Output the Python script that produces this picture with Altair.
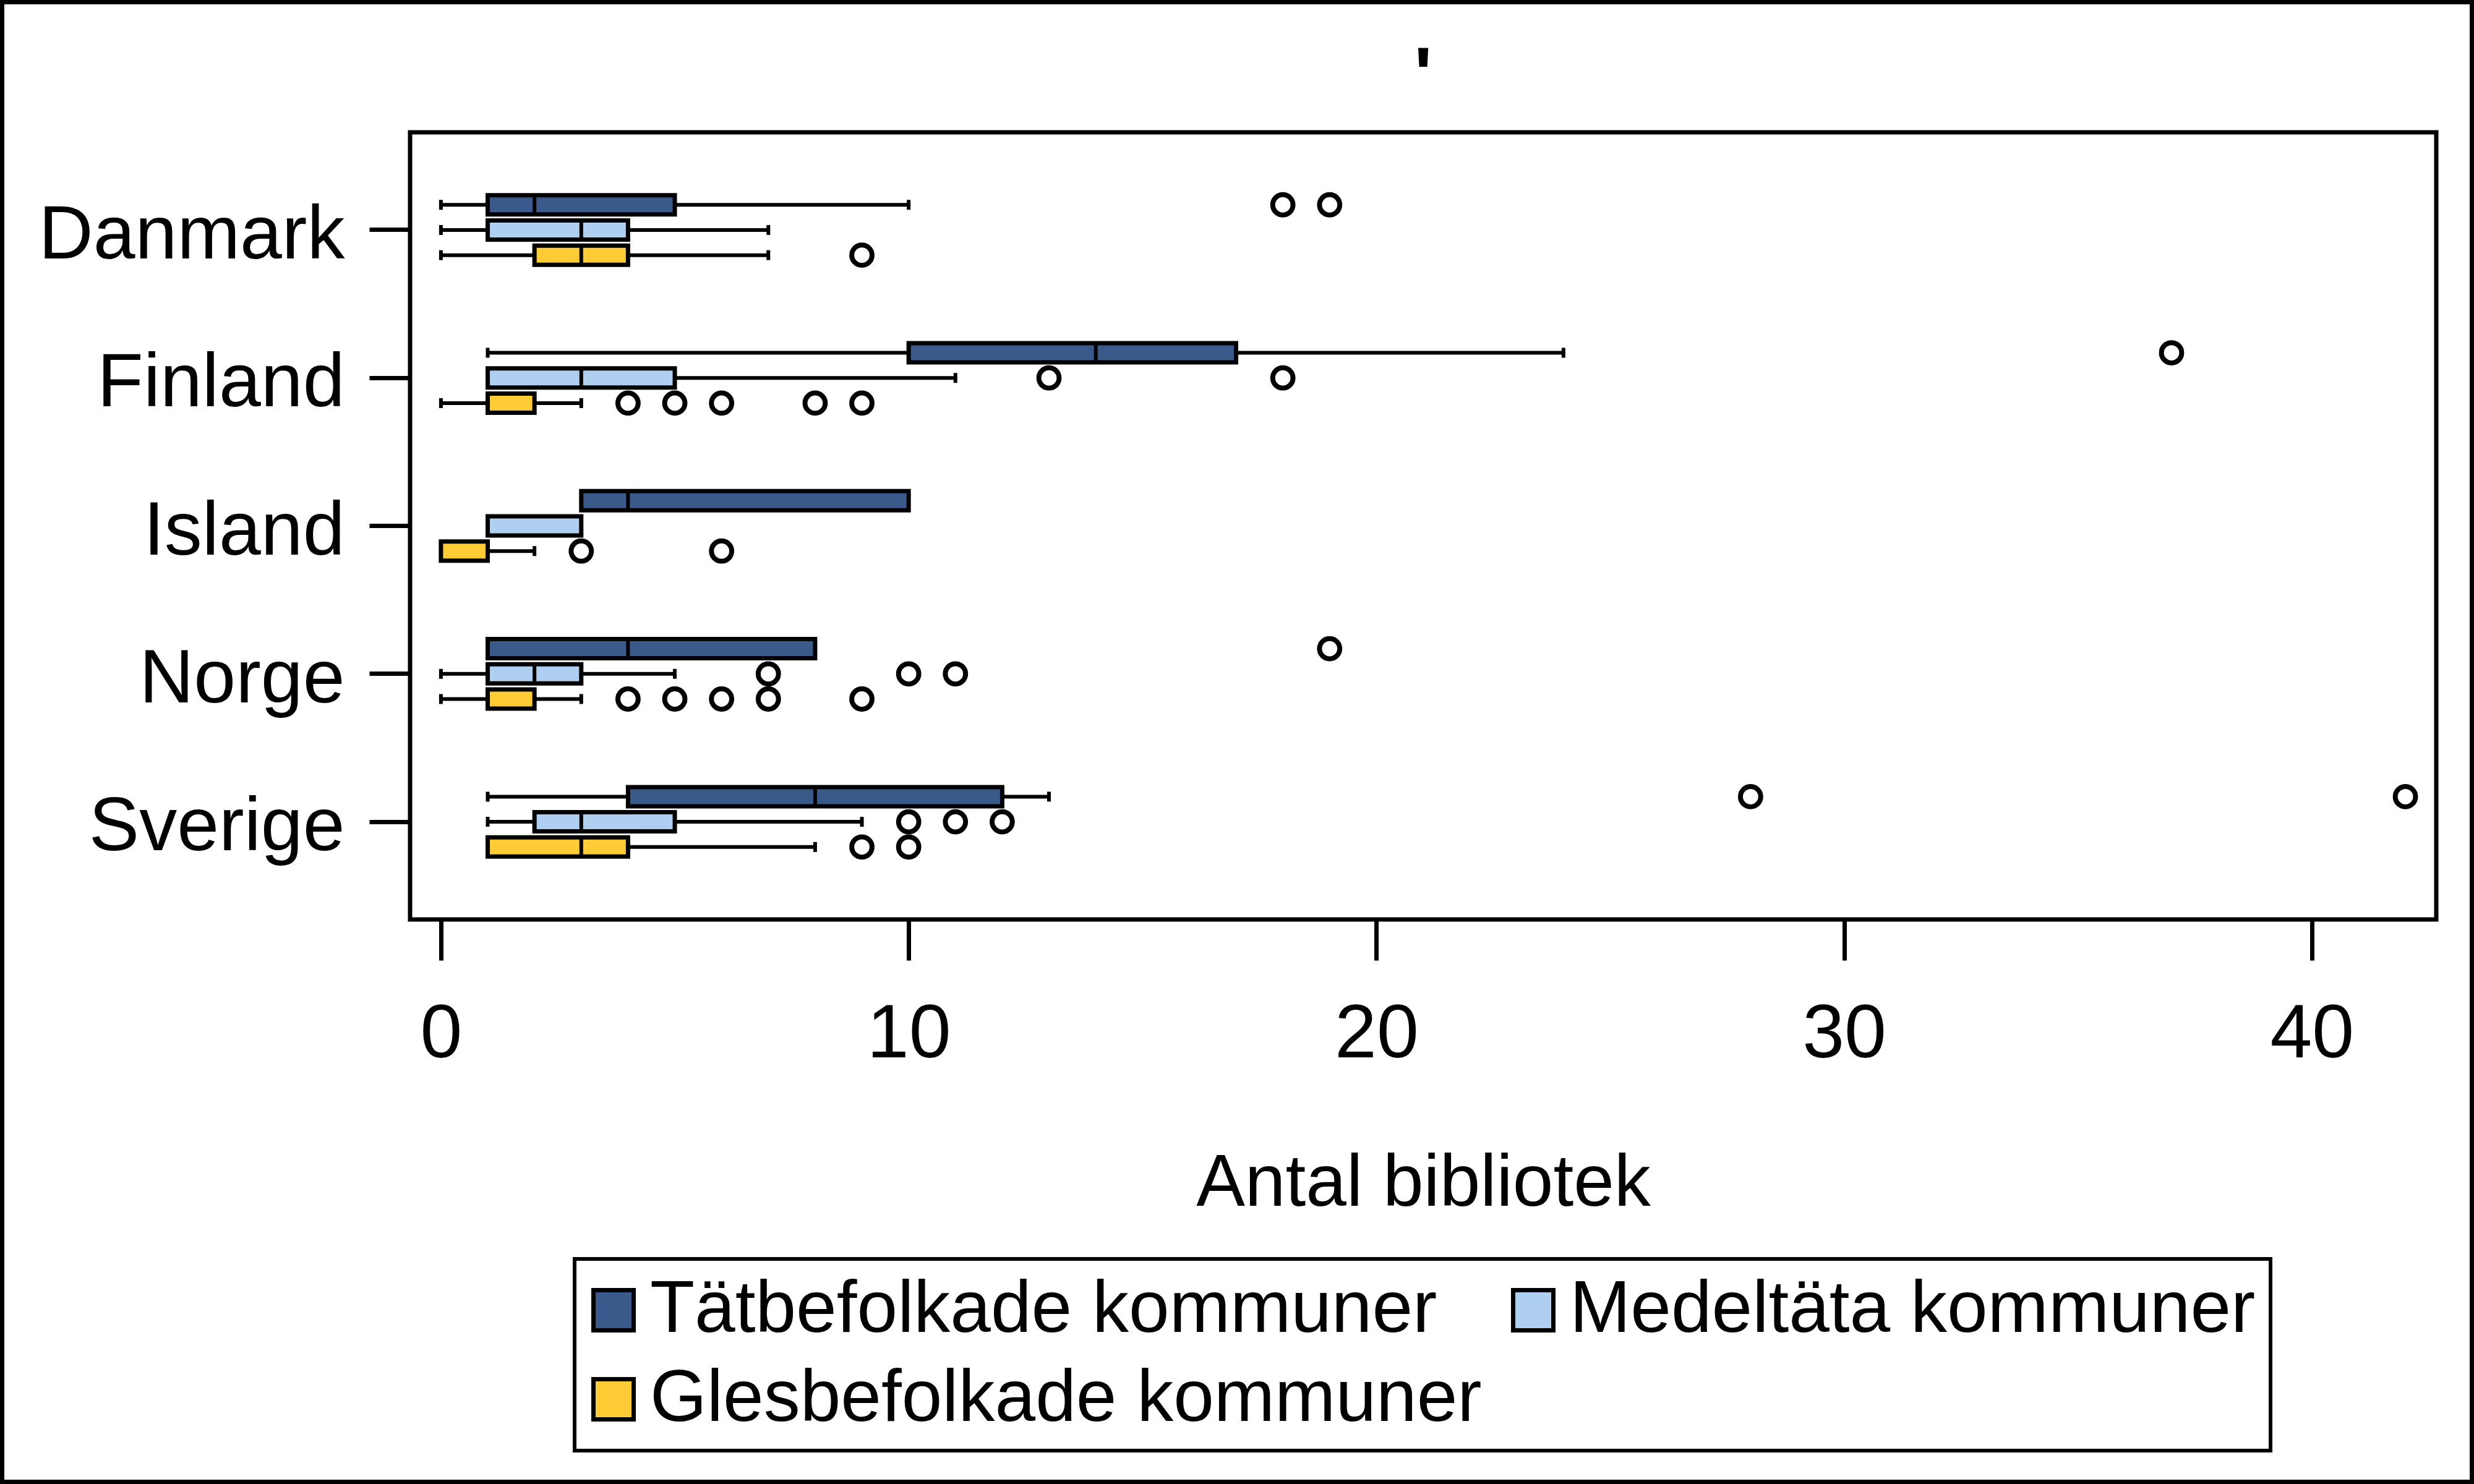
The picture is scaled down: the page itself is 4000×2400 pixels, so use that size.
import altair as alt
import pandas as pd

countries = ["Danmark", "Finland", "Island", "Norge", "Sverige"]
groups = ["Tätbefolkade kommuner", "Medeltäta kommuner", "Glesbefolkade kommuner"]
colors = ["#3a5a8b", "#aecff0", "#ffcc35"]
x_ticks = [0, 10, 20, 30, 40]
title_text = ["'"]

# Tätbefolkade kommuner
tat_lo = [0, 1, 3, 1, 1]
tat_q1 = [1, 10, 3, 1, 4]
tat_med = [2, 14, 4, 4, 8]
tat_q3 = [5, 17, 10, 8, 12]
tat_hi = [10, 24, 10, 8, 13]
tat_out = [[18, 19], [37], [], [19], [28, 42]]

# Medeltäta kommuner
med_lo = [0, 1, 1, 0, 1]
med_q1 = [1, 1, 1, 1, 2]
med_med = [3, 3, 1, 2, 3]
med_q3 = [4, 5, 3, 3, 5]
med_hi = [7, 11, 3, 5, 9]
med_out = [[], [13, 18], [], [7, 10, 11], [10, 11, 12]]

# Glesbefolkade kommuner
gles_lo = [0, 0, 0, 0, 1]
gles_q1 = [2, 1, 0, 1, 1]
gles_med = [3, 1, 0, 1, 3]
gles_q3 = [4, 2, 1, 2, 4]
gles_hi = [7, 3, 2, 3, 8]
gles_out = [[9], [4, 5, 6, 8, 9], [3, 6], [4, 5, 6, 7, 9], [9, 10]]

stats = {
    groups[0]: (tat_lo, tat_q1, tat_med, tat_q3, tat_hi, tat_out),
    groups[1]: (med_lo, med_q1, med_med, med_q3, med_hi, med_out),
    groups[2]: (gles_lo, gles_q1, gles_med, gles_q3, gles_hi, gles_out),
}

rows, outs = [], []
for g in groups:
    lo, q1, md, q3, hi, out = stats[g]
    for i, c in enumerate(countries):
        rows.append(dict(country=c, group=g, lo=lo[i], q1=q1[i], med=md[i], q3=q3[i], hi=hi[i]))
        for v in out[i]:
            outs.append(dict(country=c, group=g, value=v))
box_df = pd.DataFrame(rows)
out_df = pd.DataFrame(outs)

FONT = "Liberation Sans"

xscale = alt.Scale(domain=[-0.66, 42.66], nice=False, zero=False)
y_enc = alt.Y(
    "country:N", sort=countries,
    scale=alt.Scale(paddingInner=0, paddingOuter=0.16),
    axis=alt.Axis(title=None, labelFontSize=122, labelFont=FONT, labelColor="black",
                  tickSize=66, tickWidth=7, tickColor="black", labelPadding=40,
                  domain=False, labelOffset=9, labelLimit=2000),
)
yoff = alt.YOffset("group:N", sort=groups,
                   scale=alt.Scale(domain=groups, paddingInner=0, paddingOuter=0,
                                   range=[58.6, 180.7]))

base_box = alt.Chart(box_df)

x_axis = alt.Axis(values=x_ticks, format="d", title="Antal bibliotek", titleFontSize=118,
                  titleFont=FONT, titleFontWeight="normal", titleColor="black",
                  labelFontSize=122, labelFont=FONT, labelColor="black",
                  tickSize=66, tickWidth=7, tickColor="black", labelPadding=60,
                  titlePadding=169, domain=False, grid=False, labelFlush=False,
                  labelLimit=2000, labelOverlap=False)

lower = base_box.transform_filter("datum.lo < datum.q1").mark_rule(
    color="black", strokeWidth=6, opacity=1).encode(
    x=alt.X("lo:Q", scale=xscale, axis=x_axis), x2="q1:Q", y=y_enc, yOffset=yoff)
upper = base_box.transform_filter("datum.hi > datum.q3").mark_rule(
    color="black", strokeWidth=6, opacity=1).encode(
    x=alt.X("q3:Q", scale=xscale), x2="hi:Q", y=y_enc, yOffset=yoff)
cap_lo = base_box.transform_filter("datum.lo < datum.q1").mark_tick(
    color="black", thickness=6, size=16, orient="vertical", opacity=1).encode(
    x=alt.X("lo:Q", scale=xscale), y=y_enc, yOffset=yoff)
cap_hi = base_box.transform_filter("datum.hi > datum.q3").mark_tick(
    color="black", thickness=6, size=16, orient="vertical", opacity=1).encode(
    x=alt.X("hi:Q", scale=xscale), y=y_enc, yOffset=yoff)

boxes = base_box.mark_bar(size=31, stroke="black", strokeWidth=7, opacity=1).encode(
    x=alt.X("q1:Q", scale=xscale), x2="q3:Q", y=y_enc, yOffset=yoff,
    color=alt.Color("group:N", sort=groups,
                    scale=alt.Scale(domain=groups, range=colors),
                    legend=alt.Legend(title=None, orient="none", legendX=266, legendY=1822,
                                      columns=2, direction="horizontal",
                                      symbolType="square", symbolSize=4225,
                                      symbolStrokeColor="black", symbolStrokeWidth=7,
                                      symbolOpacity=1, symbolOffset=-20,
                                      labelFont=FONT, labelFontSize=118, labelColor="black",
                                      labelOffset=0, columnPadding=36, rowPadding=26,
                                      padding=24, strokeColor="black",
                                      labelLimit=3000)),
)
medians = base_box.mark_tick(color="black", thickness=6, size=31, orient="vertical",
                             opacity=1).encode(
    x=alt.X("med:Q", scale=xscale), y=y_enc, yOffset=yoff)

outliers = alt.Chart(out_df).mark_point(
    shape="circle", filled=True, fill="white", stroke="black", strokeWidth=8,
    size=1075, opacity=1).encode(
    x=alt.X("value:Q", scale=xscale), y=y_enc, yOffset=yoff)

# decorative outer frame of the figure
frame = alt.Chart(pd.DataFrame({"k": [0]})).mark_rect(
    filled=False, stroke="black", strokeWidth=7, fill="transparent").encode(
    x=alt.value(-659.5), x2=alt.value(3333.5), y=alt.value(-210.5), y2=alt.value(2182.5))

# chart title (a single apostrophe), centred over the plot area
title = alt.Chart(pd.DataFrame({"t": title_text})).mark_text(
    font=FONT, fontSize=122, fontWeight="bold", color="black",
    align="center", baseline="alphabetic").encode(
    text="t:N", x=alt.value(1638), y=alt.value(-52))

chart = alt.layer(lower, upper, cap_lo, cap_hi, boxes, medians, outliers, frame, title).properties(
    width=3276, height=1273,
    autosize=alt.AutoSizeParams(type="none"),
    padding={"left": 663, "top": 214, "right": 61, "bottom": 913},
    background="white",
).configure_view(stroke="black", strokeWidth=7).configure_legend(
    strokeWidth=6
)

chart.save("out.html", embed_options={"renderer": "svg", "actions": False})
